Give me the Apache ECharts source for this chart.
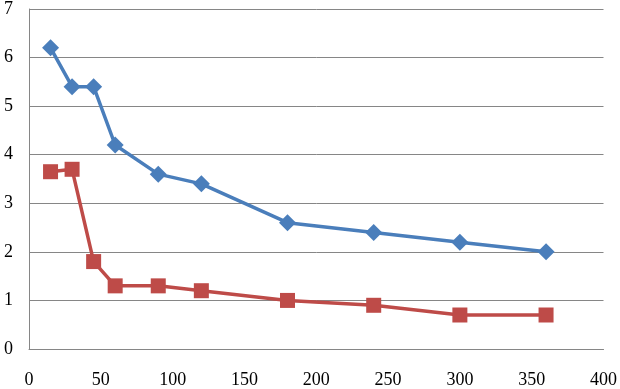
<!DOCTYPE html>
<html>
<head>
<meta charset="utf-8">
<script src="https://cdn.jsdelivr.net/npm/echarts@6/dist/echarts.min.js"></script>
<style>
  html, body { margin: 0; padding: 0; background: #fff; }
  #chart { width: 620px; height: 389px; }
</style>
</head>
<body>
<div id="chart"></div>
<script>
// x values (shared by both series)
const xValues = [15, 30, 45, 60, 90, 120, 180, 240, 300, 360]
// blue series (diamonds)
const blueValues = [6.2, 5.4, 5.4, 4.2, 3.6, 3.4, 2.6, 2.4, 2.2, 2.0]
// red series (squares)
const redValues = [3.65, 3.7, 1.8, 1.3, 1.3, 1.2, 1.0, 0.9, 0.7, 0.7]

const pair = vals => xValues.map((x, i) => [x, vals[i]])

const chart = echarts.init(document.getElementById('chart'))
const font = '"Liberation Serif", "Times New Roman", serif'

chart.setOption({
  animation: false,
  grid: { left: 29, right: 15, top: 6, bottom: 40 },
  xAxis: {
    type: 'value',
    min: 0,
    max: 400,
    interval: 50,
    axisLine: { show: true, lineStyle: { color: '#868686', width: 1 } },
    axisTick: { show: false },
    splitLine: { show: false },
    axisLabel: { color: '#000', fontFamily: font, fontSize: 18, margin: 22 }
  },
  yAxis: {
    type: 'value',
    min: 0,
    max: 7,
    interval: 1,
    axisLine: { show: true, lineStyle: { color: '#868686', width: 1 } },
    axisTick: { show: false },
    splitLine: { show: true, lineStyle: { color: '#868686', width: 1 } },
    axisLabel: { color: '#000', fontFamily: font, fontSize: 18, margin: 16 }
  },
  series: [
    {
      type: 'line',
      data: pair(blueValues),
      symbol: 'diamond',
      symbolSize: 17,
      lineStyle: { color: '#4A7EBB', width: 3.5 },
      itemStyle: { color: '#4A7EBB' }
    },
    {
      type: 'line',
      data: pair(redValues),
      symbol: 'rect',
      symbolSize: 15,
      lineStyle: { color: '#BE4B48', width: 3.5 },
      itemStyle: { color: '#BE4B48' }
    }
  ]
})
</script>
</body>
</html>
